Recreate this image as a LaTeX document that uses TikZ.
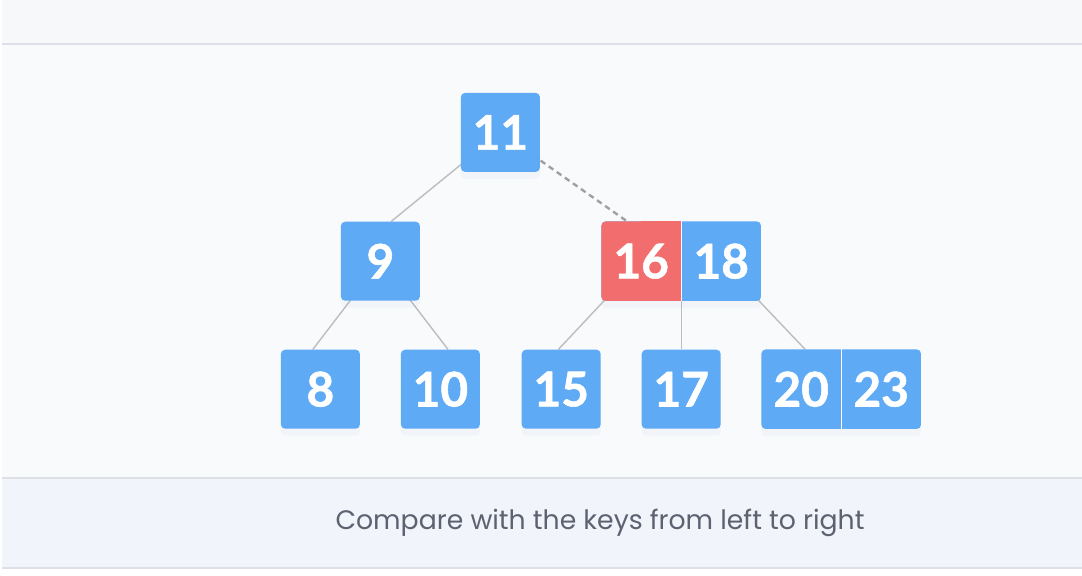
\documentclass[tikz,border=0pt]{standalone}
\usepackage{fontspec}
\setmainfont{Lato}[BoldFeatures={FakeBold=1.2}]
\newfontfamily\capfont{Poppins}
\usetikzlibrary{calc,shadows}

\definecolor{keyblue}{HTML}{5EAAF5}
\definecolor{keyred}{HTML}{F26E6E}
\definecolor{edgegray}{HTML}{BDBDBD}
\definecolor{dashgray}{HTML}{A0A0A0}
\definecolor{topband}{HTML}{F7F8FA}
\definecolor{mainband}{HTML}{F9FAFC}
\definecolor{capband}{HTML}{F1F4FB}
\definecolor{rulegray}{HTML}{DDE0E6}
\definecolor{captext}{HTML}{5E6170}

\pgfdeclarelayer{bands}
\pgfdeclarelayer{links}
\pgfsetlayers{bands,links,main}

\begin{document}
\begin{tikzpicture}[
  pairkey/.style={text=white, minimum width=1.975cm, minimum height=1.975cm,
    inner sep=0pt, font=\fontsize{34}{34}\selectfont\bfseries},
  soft/.style={drop shadow={shadow xshift=0pt, shadow yshift=-5pt, opacity=0.05, fill=keyblue!50!gray}},
  key/.style={pairkey, fill=keyblue, rounded corners=3pt, soft},
  link/.style={edgegray, line width=1pt},
  search/.style={dashgray, line width=1.7pt, dash pattern=on 4pt off 3pt}]

  \useasboundingbox (0,0) rectangle (27.05,-14.375);

  % the three bands of the panel
  \begin{pgfonlayer}{bands}
    \fill[white] (0,0) rectangle (27.05,-14.375);
    \fill[topband] (0.05,0) rectangle (27.05,-1.1);
    \fill[mainband] (0.05,-1.1) rectangle (27.05,-11.95);
    \fill[capband] (0.05,-11.95) rectangle (27.05,-14.2);
    \draw[rulegray, line width=1.4pt] (0.05,-1.1) -- (27.05,-1.1);
    \draw[rulegray, line width=1.4pt] (0.05,-11.95) -- (27.05,-11.95);
    \draw[rulegray, line width=1.4pt] (0.05,-14.2) -- (27.05,-14.2);
  \end{pgfonlayer}

  % root
  \node[key] (k11) at (12.51,-3.31) {11};

  % middle level
  \node[key] (k9)  at (9.51,-6.53) {9};
  \node[pairkey] (k16) at (16.03,-6.53) {16};
  \node[pairkey] (k18) at (18.03,-6.53) {18};

  % leaves
  \node[key] (k8)  at (8.01,-9.73)  {8};
  \node[key] (k10) at (11.01,-9.73) {10};
  \node[key] (k15) at (14.03,-9.73) {15};
  \node[key] (k17) at (17.03,-9.73) {17};
  \node[pairkey] (k20) at (20.03,-9.73) {20};
  \node[pairkey] (k23) at (22.03,-9.73) {23};

  \begin{pgfonlayer}{links}
    \draw[link] (k11.center) -- ($(k9.north)+(0.27,0)$);
    \draw[search] (k11.center) -- ($(k16.north)+(-0.35,0)$);
    \draw[link] (k9.center) -- ($(k8.north)+(-0.19,0)$);
    \draw[link] (k9.center) -- ($(k10.north)+(0.19,0)$);
    \draw[link] (k16.center) -- ($(k15.north)+(-0.07,0)$);
    \draw[link] ($(k16.east)!0.5!(k18.west)$) -- (k17.north);
    \draw[link] (k18.center) -- ($(k20.north)+(0.1,0)$);

    % two-key nodes: one rounded box, split by a thin light line
    \fill[keyblue, rounded corners=3pt, soft] (k16.north west) rectangle (k18.south east);
    \fill[keyred, rounded corners=3pt] (k16.north west) rectangle (k16.south east);
    \fill[keyred] (k16.north) rectangle (k16.south east);
    \draw[white, line width=0.8pt] ($(k16.north east)!0.5!(k18.north west)$)
      -- ($(k16.south east)!0.5!(k18.south west)$);

    \fill[keyblue, rounded corners=3pt, soft] (k20.north west) rectangle (k23.south east);
    \draw[white, line width=0.8pt] ($(k20.north east)!0.5!(k23.north west)$)
      -- ($(k20.south east)!0.5!(k23.south west)$);
  \end{pgfonlayer}

  \node[font=\capfont\fontsize{19}{22}\selectfont, text=captext] (cap) at (15.0,-13.08)
    {Compare with the keys from left to right};

\end{tikzpicture}
\end{document}
